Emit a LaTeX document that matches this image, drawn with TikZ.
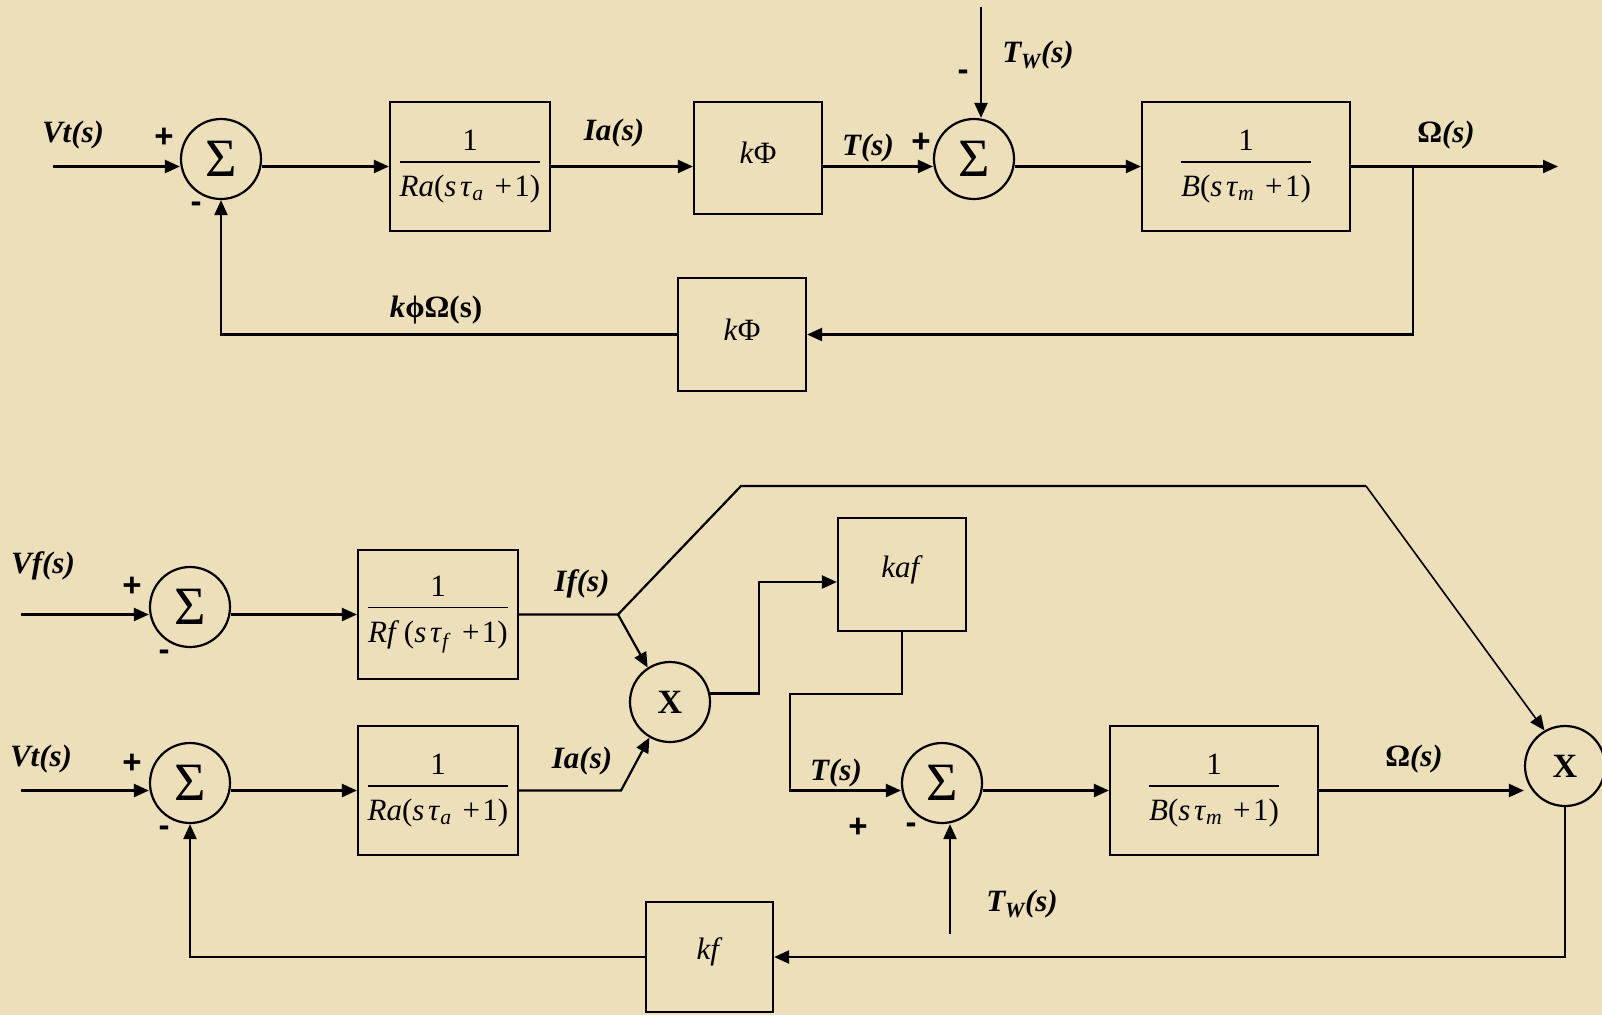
\documentclass[tikz,border=0pt]{standalone}
\usepackage{fontspec}
\usepackage{amsmath}
\setmainfont{Liberation Serif}
\setsansfont{Liberation Sans}
\usetikzlibrary{arrows.meta}
\definecolor{bg}{RGB}{236,223,186}
\newcommand{\blkfrac}[1]{$\genfrac{}{}{1.3pt}{0}{\mbox{1\rule[-7pt]{0pt}{7pt}}}{\mbox{\rule{0pt}{30pt}#1}}$}
\newcommand{\den}[2]{\textit{#1}(\textit{s}\hspace{0.12em}\textit{τ}\textsubscript{\textit{#2}}\hspace{0.35em}+\hspace{0.08em}1)}
\newcommand{\up}[1]{\raisebox{5pt}[\height][\depth]{#1}}
\begin{document}
\begin{tikzpicture}[x=1pt,y=-1pt,line width=2.2pt,
  arr/.style={-{Triangle[length=15pt,width=13pt]}},
  blk/.style={draw,rectangle,inner sep=0pt,font=\fontsize{31}{36}\selectfont},
  sumn/.style={draw,circle,minimum size=80pt,inner sep=0pt,font=\fontsize{54}{58}\selectfont},
  mul/.style={draw,circle,minimum size=80pt,inner sep=0pt,font=\fontsize{34}{36}\selectfont\bfseries},
  lbl/.style={font=\fontsize{31}{34}\selectfont\bfseries\itshape,inner sep=0pt},
  sgn/.style={font=\fontsize{33}{34}\selectfont\sffamily\bfseries,inner sep=0pt}]
\useasboundingbox (0,0) rectangle (1602,1015);
\fill[bg] (0,0) rectangle (1602,1015);

% ---------------- top diagram ----------------
\node[sumn] (s1) at (221,159) {Σ};
\node[blk,minimum width=160pt,minimum height=129pt] (ra1) at (470,166.5)
  {\blkfrac{\den{Ra}{a}}};
\node[blk,minimum width=128pt,minimum height=112pt] (kp1) at (758,158) {\up{\textit{k}Φ}};
\node[sumn] (s2) at (974,159) {Σ};
\node[blk,minimum width=208pt,minimum height=129pt] (bm1) at (1246,166.5)
  {\blkfrac{\den{B}{m}}};
\node[blk,minimum width=128pt,minimum height=113pt] (kp2) at (742,334.5) {\up{\textit{k}Φ}};

\coordinate (vt1) at (53,166.5);
\coordinate (om1) at (1558,166.5);
\coordinate (br1) at (1413,166.5);
\coordinate (tw1) at (981,7);

\draw[arr] (vt1) -- (vt1 -| s1.west);
\draw[arr] (s1.east |- ra1.west) -- (ra1.west);
\draw[arr] (ra1.east) -- (ra1.east -| kp1.west);
\draw[arr] (kp1.east |- ra1.east) -- (ra1.east -| s2.west);
\draw[arr] (s2.east |- bm1.west) -- (bm1.west);
\draw[arr] (bm1.east) -- (om1);
\draw[arr] (br1) |- (kp2.east);
\draw[arr] (kp2.west) -| (s1.south);
\draw[arr] (tw1) -- (tw1 |- s2.north);

\node[lbl] (l1) at (73,135) {Vt(s)};
\node[sgn] (p1) at (164,138) {+};
\node[sgn] (m1) at (196,207) {-};
\node[lbl] (l2) at (614,133) {Ia(s)};
\node[lbl] (l3) at (868,148) {T(s)};
\node[sgn] (p2) at (921,143) {+};
\node[lbl] (l4) at (1038,55) {T\textsubscript{W}(s)};
\node[sgn] (m2) at (963,75) {-};
\node[lbl] (l5) at (1446,135) {\textup{Ω}(s)};
\node[lbl] (l6) at (436,310) {k\textup{ϕΩ(s)}};

% ---------------- bottom diagram ----------------
\node[sumn] (s3) at (190,607) {Σ};
\node[blk,minimum width=160pt,minimum height=129pt] (rf) at (438,614.5)
  {\blkfrac{\textit{Rf}\hspace{0.15em}(\textit{s}\hspace{0.12em}\textit{τ}\textsubscript{\textit{f}}\hspace{0.35em}+\hspace{0.08em}1)}};
\node[sumn] (s4) at (190,783) {Σ};
\node[blk,minimum width=160pt,minimum height=129pt] (ra2) at (438,790.5)
  {\blkfrac{\den{Ra}{a}}};
\node[mul] (x1) at (670,702) {X};
\node[blk,minimum width=128pt,minimum height=113pt] (kaf) at (902,574.5) {\up{\textit{kaf}}};
\node[sumn] (s5) at (942,783) {Σ};
\node[blk,minimum width=208pt,minimum height=129pt] (bm2) at (1214,790.5)
  {\blkfrac{\den{B}{m}}};
\node[mul] (x2) at (1565,766) {X};
\node[blk,minimum width=127pt,minimum height=110pt] (kf) at (709.5,957) {\up{\textit{kf}}};

\coordinate (vf) at (21,614.5);
\coordinate (vt2) at (21,790.5);
\coordinate (ifb) at (618,614.5);
\coordinate (c1) at (741,486);
\coordinate (c2) at (1366,486);
\coordinate (iab) at (621,790.5);
\coordinate (xk) at (759,582);
\coordinate (k2) at (790,694);
\coordinate (k3) at (790,790.5);
\coordinate (tw2) at (950,934);

\draw[arr] (vf) -- (vf -| s3.west);
\draw[arr] (s3.east |- rf.west) -- (rf.west);
\draw (rf.east) -- (ifb) -- (c1) -- (c2);
\draw[arr,line width=1.6pt] (c2) -- (x2.120);
\draw[arr] (ifb) -- (x1.123);
\draw[arr] (vt2) -- (vt2 -| s4.west);
\draw[arr] (s4.east |- ra2.west) -- (ra2.west);
\draw[arr] (ra2.east) -- (iab) -- (x1.240);
\draw[arr] (x1.12) -| (xk) -- (xk -| kaf.west);
\draw[arr] (kaf.south) |- (k2) -- (k3) -- (k3 -| s5.west);
\draw[arr] (s5.east |- bm2.west) -- (bm2.west);
\draw[arr] (bm2.east) -- (bm2.east -| x2.west);
\draw[arr] (x2.south) |- (kf.east);
\draw[arr] (kf.west) -| (s4.south);
\draw[arr] (tw2) -- (tw2 |- s5.south);

\node[lbl] (l7) at (43,566) {Vf(s)};
\node[sgn] (p3) at (132,587) {+};
\node[sgn] (m3) at (164,655) {-};
\node[lbl] (l8) at (582,584) {If(s)};
\node[lbl] (l9) at (41,759) {Vt(s)};
\node[sgn] (p4) at (132,764) {+};
\node[sgn] (m4) at (164,831) {-};
\node[lbl] (l10) at (582,761) {Ia(s)};
\node[lbl] (l11) at (836,773) {T(s)};
\node[sgn] (p5) at (858,828) {+};
\node[sgn] (m5) at (911,828) {-};
\node[lbl] (l12) at (1022,904) {T\textsubscript{W}(s)};
\node[lbl] (l13) at (1414,759) {\textup{Ω}(s)};
\end{tikzpicture}
\end{document}
